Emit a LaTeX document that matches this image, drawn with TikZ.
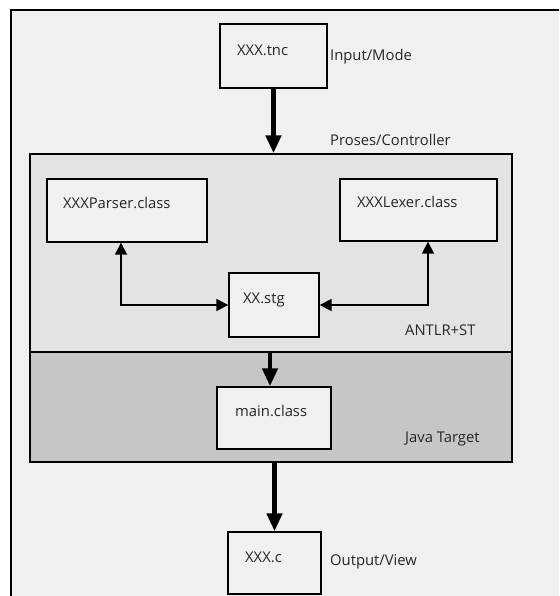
\documentclass[tikz,border=0pt]{standalone}
\usepackage{fontspec}
\setmainfont{Open Sans}
\usetikzlibrary{arrows.meta}
\definecolor{framebg}{HTML}{F0F0F0}
\definecolor{ctrlbg}{HTML}{E3E3E3}
\definecolor{javabg}{HTML}{C6C6C6}
\tikzset{
  box/.style={draw=black, line width=1.4pt, fill=framebg, inner sep=0pt},
  region/.style={draw=black, line width=1.4pt, inner sep=0pt},
  txt/.style={anchor=west, inner sep=0pt, font=\fontsize{14.8pt}{17pt}\selectfont, text=black!85},
  bigarrow/.style={line width=4.6pt, -{Triangle[width=15pt,length=18pt]}},
  twoway/.style={line width=1.8pt, {Triangle[width=12pt,length=12pt]}-{Triangle[width=12pt,length=12pt]}}
}
\begin{document}
\begin{tikzpicture}[x=1pt,y=-1pt]
\useasboundingbox (0,0) rectangle (559,596);
\fill[white] (0,0) rectangle (559,596);
\clip (0,0) rectangle (559,596);
% outer frame
\draw[line width=1.6pt, fill=framebg] (11,10) rectangle (575,610);
% regions
\node[region, fill=ctrlbg, minimum width=482pt, minimum height=198pt] (ctrl) at (271,253) {};
\node[region, fill=javabg, minimum width=482pt, minimum height=110pt] (java) at (271,407) {};
% boxes
\node[box, minimum width=107pt, minimum height=64pt] (tnc) at (273.5,56) {};
\node[box, minimum width=160pt, minimum height=63pt] (parser) at (127,210.5) {};
\node[box, minimum width=157pt, minimum height=62pt] (lexer) at (418.5,210) {};
\node[box, minimum width=90pt, minimum height=64pt] (stg) at (274,305) {};
\node[box, minimum width=114pt, minimum height=62pt] (main) at (274,418) {};
\node[box, minimum width=93pt, minimum height=62pt] (outc) at (274.5,563) {};
% texts
\node[txt] (ttnc) at (237,50) {XXX.tnc};
\node[txt] (tin) at (330,57) {Input/Mode};
\node[txt] (tctrl) at (330,140) {Proses/Controller};
\node[txt] (tparser) at (63,203) {XXXParser.class};
\node[txt] (tlexer) at (357,202) {XXXLexer.class};
\node[txt] (tstg) at (243,300) {XX.stg};
\node[txt] (tantlr) at (405,330) {ANTLR+ST};
\node[txt] (tmain) at (235,411) {main.class};
\node[txt] (tjava) at (405,439) {Java Target};
\node[txt] (tc) at (245,557) {XXX.c};
\node[txt] (tout) at (330,562) {Output/View};
% connectors
\coordinate (a2s) at (270,352);
\draw[bigarrow] (tnc.south) -- (tnc.south |- ctrl.north);
\draw[bigarrow] (a2s) -- (a2s |- main.north);
\draw[bigarrow] (outc.north |- java.south) -- (outc.north);
\draw[twoway] (parser.south -| 121,0) |- (stg.west);
\draw[twoway] (lexer.south -| 428,0) |- (stg.east);
\end{tikzpicture}
\end{document}
